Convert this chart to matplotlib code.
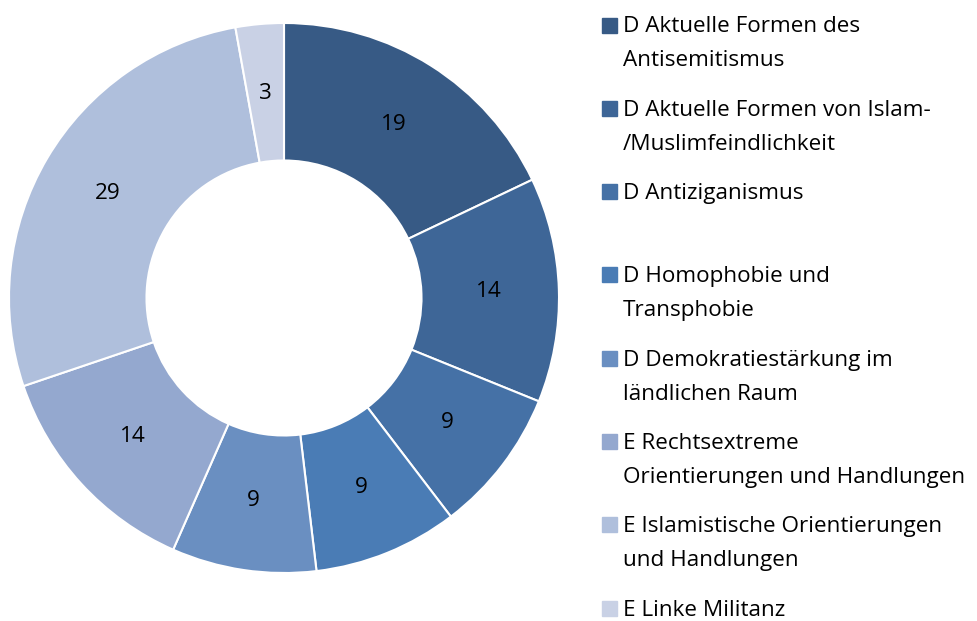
import matplotlib
matplotlib.use("Agg")
import matplotlib.pyplot as plt
import numpy as np

# Werte aus dem Diagramm
labels = [
    "D Aktuelle Formen des\nAntisemitismus",
    "D Aktuelle Formen von Islam-\n/Muslimfeindlichkeit",
    "D Antiziganismus",
    "D Homophobie und\nTransphobie",
    "D Demokratiestärkung im\nländlichen Raum",
    "E Rechtsextreme\nOrientierungen und Handlungen",
    "E Islamistische Orientierungen\nund Handlungen",
    "E Linke Militanz",
]
values = [19, 14, 9, 9, 9, 14, 29, 3]
colors = ["#375A85", "#3E6697", "#4571A6", "#4A7CB5",
          "#6A8FC1", "#94A8CF", "#AFBFDC", "#C9D1E5"]

plt.rcParams['font.family'] = ['Open Sans', 'DejaVu Sans']

W, H = 977, 621
fs = 16.2
fig = plt.figure(figsize=(W / 100, H / 100), dpi=100)

# Ring
cx, cy, r = 284, 298, 275
ax = fig.add_axes([(cx - r) / W, (H - cy - r) / H, 2 * r / W, 2 * r / H])
wedges, _ = ax.pie(values, colors=colors, startangle=90, counterclock=False,
                   radius=1, wedgeprops=dict(width=0.5, edgecolor="white", linewidth=1.5))
ax.set_xlim(-1, 1)
ax.set_ylim(-1, 1)
ax.set_aspect("equal")
ax.axis("off")

total = sum(values)
ang = 90.0
for v in values:
    mid = ang - v / total * 360 / 2
    ang -= v / total * 360
    x = 0.745 * np.cos(np.radians(mid))
    y = 0.745 * np.sin(np.radians(mid))
    ax.text(x, y, str(v), ha="center", va="center", fontsize=fs, color="black")

# Legende (Zeile fuer Zeile platziert)
base0, step, gap = 32.5, 83.3, 34
for i, (lab, c) in enumerate(zip(labels, colors)):
    b = base0 + i * step
    fig.patches.append(plt.Rectangle((602 / W, 1 - b / H), 15 / W, 15 / H,
                                     transform=fig.transFigure, color=c))
    for j, line in enumerate(lab.split("\n")):
        fig.text(623 / W, 1 - (b + j * gap) / H, line, ha="left", va="baseline",
                 fontsize=fs, color="black")

fig.savefig("out.png", dpi=100)
